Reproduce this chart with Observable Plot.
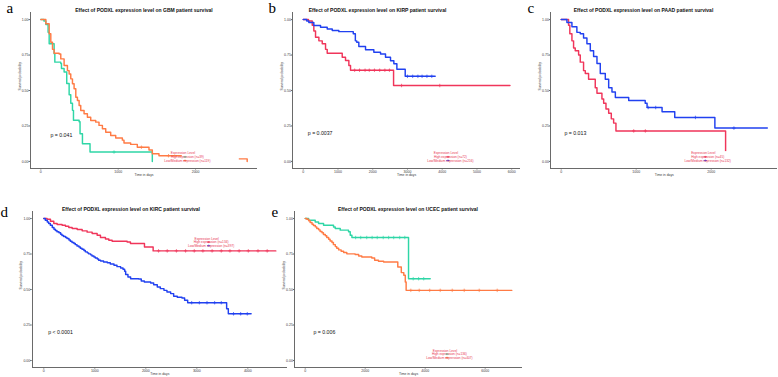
<!DOCTYPE html>
<html><head><meta charset="utf-8">
<script src="https://cdn.jsdelivr.net/npm/d3@7"></script>
<script src="https://cdn.jsdelivr.net/npm/@observablehq/plot@0.6"></script>
<style>
html,body{margin:0;padding:0;background:#fff;}
#fig{position:relative;width:778px;height:377px;overflow:hidden;background:#fff;font-family:"Liberation Sans",Arial,sans-serif;}
</style></head><body><div id="fig"></div>
<script>
// ---------- DATA ----------
const yTicks = [0, 0.25, 0.5, 0.75, 1];
const legendTitle = "Expression Level";

// a: GBM
const gbmHighTime = [0, 40, 65, 94, 108, 172, 181, 258, 267, 301, 335, 366, 387, 409, 422, 495, 507, 538, 636, 1441];
const gbmHighSurv = [1, 0.99, 0.965, 0.91, 0.83, 0.76, 0.70, 0.69, 0.655, 0.63, 0.55, 0.47, 0.41, 0.36, 0.29, 0.28, 0.195, 0.125, 0.066, 0];
const gbmLowTime = [0, 65, 108, 129, 151, 172, 237, 258, 301, 344, 366, 387, 409, 430, 452, 473, 495, 516, 559, 602, 645, 710, 752, 796, 839, 903, 968, 1054, 1075, 1161, 1247, 1398, 1441, 1527, 2400, 2667];
const gbmLowSurv = [1, 0.97, 0.90, 0.84, 0.79, 0.763, 0.758, 0.723, 0.676, 0.64, 0.617, 0.582, 0.547, 0.512, 0.453, 0.43, 0.394, 0.359, 0.336, 0.312, 0.289, 0.277, 0.254, 0.23, 0.206, 0.183, 0.165, 0.15, 0.13, 0.12, 0.10, 0.08, 0.054, 0.04, 0.018, 0];
const gbmHighCens = [946];
const gbmLowCens = [1300, 1650, 1900];
const gbmXTicks = [0, 1000, 2000];
const gbmLabels = ["High expression (n=39)", "Low/Medium expression (n=119)"];

// b: KIRP
const kirpHighTime = [0, 150, 259, 305, 354, 450, 547, 642, 690, 1122, 1217, 1313, 1361, 2600, 5950];
const kirpHighSurv = [1, 0.99, 0.96, 0.92, 0.875, 0.85, 0.83, 0.79, 0.763, 0.735, 0.711, 0.676, 0.643, 0.535, 0.535];
const kirpLowTime = [0, 100, 161, 305, 498, 690, 835, 1025, 1440, 1500, 1540, 1600, 1793, 2032, 2225, 2368, 2512, 2608, 2695, 2935, 3798];
const kirpLowSurv = [1, 0.99, 0.98, 0.958, 0.946, 0.934, 0.923, 0.915, 0.90, 0.85, 0.84, 0.81, 0.787, 0.77, 0.758, 0.734, 0.71, 0.688, 0.65, 0.60, 0.60];
const kirpHighCens = [1480, 1620, 1780, 1900, 2050, 2200, 2350, 2480, 2830, 3930];
const kirpLowCens = [3000, 3150, 3300, 3420, 3560, 3700];
const kirpXTicks = [0, 1000, 2000, 3000, 4000, 5000, 6000];
const kirpLabels = ["High expression (n=72)", "Low/Medium expression (n=216)"];

// c: PAAD
const paadHighTime = [0, 98, 115, 143, 165, 187, 232, 254, 298, 321, 365, 454, 477, 543, 566, 597, 633, 668, 699, 730, 2192];
const paadHighSurv = [1, 0.96, 0.90, 0.85, 0.80, 0.78, 0.75, 0.70, 0.64, 0.62, 0.58, 0.52, 0.48, 0.44, 0.41, 0.37, 0.34, 0.30, 0.27, 0.215, 0];
const paadLowTime = [0, 76, 143, 209, 254, 298, 343, 388, 432, 477, 521, 588, 633, 677, 722, 900, 1120, 1145, 1345, 1514, 2049, 2748];
const paadLowSurv = [1, 0.98, 0.95, 0.91, 0.90, 0.87, 0.83, 0.78, 0.74, 0.69, 0.62, 0.58, 0.52, 0.49, 0.45, 0.43, 0.41, 0.38, 0.35, 0.31, 0.235, 0.235];
const paadHighCens = [967, 1122];
const paadLowCens = [1160, 1260, 1790, 2303];
const paadXTicks = [0, 1000, 2000];
const paadLabels = ["High expression (n=45)", "Low/Medium expression (n=132)"];

// d: KIRC
const kircHighTime = [0, 65, 131, 196, 261, 359, 425, 490, 556, 654, 752, 850, 948, 1046, 1111, 1209, 1275, 1340, 1634, 1699, 1974, 2144, 4549];
const kircHighSurv = [1, 0.995, 0.981, 0.965, 0.958, 0.953, 0.946, 0.936, 0.929, 0.922, 0.913, 0.904, 0.894, 0.882, 0.866, 0.856, 0.847, 0.84, 0.835, 0.824, 0.80, 0.772, 0.772];
const kircLowTime = [0, 30, 68, 95, 128, 166, 199, 226, 258, 297, 330, 356, 389, 428, 455, 493, 520, 553, 591, 618, 651, 689, 716, 749, 787, 814, 853, 879, 918, 945, 983, 1010, 1049, 1075, 1114, 1172, 1245, 1304, 1376, 1435, 1506, 1553, 1585, 1605, 1650, 1702, 1860, 1911, 1971, 2095, 2154, 2225, 2285, 2356, 2415, 2487, 2546, 2617, 2709, 2761, 2821, 3585, 3618, 4065];
const kircLowSurv = [1, 0.988, 0.976, 0.965, 0.953, 0.936, 0.925, 0.915, 0.906, 0.899, 0.889, 0.880, 0.873, 0.866, 0.859, 0.849, 0.840, 0.831, 0.824, 0.816, 0.807, 0.800, 0.791, 0.784, 0.774, 0.765, 0.758, 0.751, 0.744, 0.736, 0.729, 0.722, 0.715, 0.706, 0.701, 0.694, 0.689, 0.680, 0.671, 0.661, 0.652, 0.642, 0.628, 0.605, 0.588, 0.576, 0.574, 0.560, 0.553, 0.546, 0.534, 0.518, 0.506, 0.494, 0.482, 0.471, 0.452, 0.445, 0.440, 0.424, 0.407, 0.365, 0.329, 0.329];
const kircHighCens = [2250, 2420, 2600, 2780, 2950, 3120, 3300, 3480, 3650, 3830, 4010, 4200, 4380];
const kircLowCens = [2900, 3050, 3200, 3350, 3480, 3720, 3860, 3990];
const kircXTicks = [0, 1000, 2000, 3000, 4000];
const kircLabels = ["High expression (n=134)", "Low/Medium expression (n=397)"];

// e: UCEC
const ucecHighTime = [0, 111, 333, 444, 611, 944, 1000, 1167, 1444, 1500, 1556, 3444, 4167];
const ucecHighSurv = [1, 0.988, 0.976, 0.965, 0.953, 0.94, 0.93, 0.918, 0.906, 0.882, 0.866, 0.576, 0.576];
const ucecLowTime = [0, 52, 115, 163, 226, 274, 337, 385, 448, 496, 559, 607, 670, 718, 781, 829, 892, 940, 1003, 1051, 1114, 1197, 1281, 1386, 1664, 1781, 1886, 2219, 2314, 2441, 2614, 3086, 3203, 3286, 3336, 3364, 6889];
const ucecLowSurv = [1, 0.995, 0.984, 0.972, 0.96, 0.951, 0.941, 0.929, 0.92, 0.908, 0.899, 0.887, 0.878, 0.866, 0.854, 0.842, 0.831, 0.816, 0.802, 0.791, 0.779, 0.769, 0.76, 0.751, 0.746, 0.736, 0.729, 0.722, 0.706, 0.699, 0.694, 0.659, 0.619, 0.60, 0.553, 0.494, 0.494];
const ucecHighCens = [1680, 1850, 2050, 2230, 2400, 2600, 2780, 2950, 3150, 3320, 3600, 3780, 3950];
const ucecLowCens = [3520, 3800, 4150, 4500, 4900, 5300, 5800, 6400];
const ucecXTicks = [0, 2000, 4000, 6000];
const ucecLabels = ["High expression (n=136)", "Low/Medium expression (n=407)"];

// ---------- STYLE ----------
const teal = "#2fd6a6", orange = "#ff7b45", red = "#f0355a", blue = "#2141f0";
const legendRed = "#e8354f", axisColor = "#6a6a6a", tickColor = "#3a3a3a";
const sans = "'Liberation Sans', Arial, sans-serif";
const serif = "'Liberation Serif', 'Times New Roman', serif";

// ---------- PANELS (layout) ----------
const panels = [
  {left:0, top:0, width:262, height:180, mL:30, mR:5, mT:12, mB:12,
   letter:"a", letterX:6, letterY:12, title:"Effect of PODXL expression level on GBM patient survival", titleX:143.5, titleY:10,
   p:"p = 0.041", pX:50, pY:135, legX:183, legY:153.3, legW:57,
   series:[{time:gbmHighTime, surv:gbmHighSurv, cens:gbmHighCens, color:teal},{time:gbmLowTime, surv:gbmLowSurv, cens:gbmLowCens, color:orange}],
   xticks:gbmXTicks, labels:gbmLabels},
  {left:258, top:0, width:264, height:180, mL:34.4, mR:2.2, mT:12, mB:12,
   letter:"b", letterX:268, letterY:12.5, title:"Effect of PODXL expression level on KIRP patient survival", titleX:377, titleY:9.5,
   p:"p = 0.0037", pX:307.3, pY:133.3, legX:446, legY:153.3, legW:58,
   series:[{time:kirpHighTime, surv:kirpHighSurv, cens:kirpHighCens, color:red},{time:kirpLowTime, surv:kirpLowSurv, cens:kirpLowCens, color:blue}],
   xticks:kirpXTicks, labels:kirpLabels},
  {left:518, top:0, width:260, height:180, mL:32.4, mR:0.9, mT:12, mB:12,
   letter:"c", letterX:527, letterY:12.5, title:"Effect of PODXL expression level on PAAD patient survival", titleX:643, titleY:9.5,
   p:"p = 0.013", pX:564, pY:133.3, legX:703.3, legY:153.3, legW:58,
   series:[{time:paadHighTime, surv:paadHighSurv, cens:paadHighCens, color:red},{time:paadLowTime, surv:paadLowSurv, cens:paadLowCens, color:blue}],
   xticks:paadXTicks, labels:paadLabels},
  {left:0, top:190, width:290, height:187, mL:31.7, mR:3.1, mT:20.9, mB:9.9,
   letter:"d", letterX:0, letterY:216.7, title:"Effect of PODXL expression level on KIRC patient survival", titleX:130.5, titleY:208.5,
   p:"p < 0.0001", pX:47.7, pY:331.7, legX:206.7, legY:238.5, legW:60,
   series:[{time:kircHighTime, surv:kircHighSurv, cens:kircHighCens, color:red},{time:kircLowTime, surv:kircLowSurv, cens:kircLowCens, color:blue}],
   xticks:kircXTicks, labels:kircLabels},
  {left:262, top:190, width:262, height:187, mL:32.4, mR:2.3, mT:20.9, mB:9.9,
   letter:"e", letterX:271, letterY:216.7, title:"Effect of PODXL expression level on UCEC patient survival", titleX:407.5, titleY:208.5,
   p:"p = 0.006", pX:313, pY:331.7, legX:445, legY:350.5, legW:60,
   series:[{time:ucecHighTime, surv:ucecHighSurv, cens:ucecHighCens, color:teal},{time:ucecLowTime, surv:ucecLowSurv, cens:ucecLowCens, color:orange}],
   xticks:ucecXTicks, labels:ucecLabels}
];

function rows(time, surv) { return time.map((t, i) => ({t, s: surv[i]})); }
function survAt(time, surv, t) { const i = d3.bisectRight(time, t) - 1; return surv[Math.max(0, i)]; }

const fig = document.getElementById("fig");

for (const cfg of panels) {
  const M = d3.max(cfg.series.flatMap(s => s.time));
  const xdom = [-0.05 * M, 1.05 * M];
  const rel = (x, y) => ({frameAnchor: "top-left", dx: x - cfg.left - cfg.mL, dy: y - cfg.top - cfg.mT});
  const marks = [
    Plot.ruleX([xdom[0]], {stroke: axisColor, strokeWidth: 1, shapeRendering: "crispEdges"}),
    Plot.ruleY([-0.05], {stroke: axisColor, strokeWidth: 1, shapeRendering: "crispEdges"}),
    Plot.axisX({ticks: cfg.xticks, tickFormat: d => String(d), tickSize: 1.5, tickPadding: 0.5, fontSize: 3.5, label: null, stroke: axisColor, fill: tickColor}),
    Plot.axisY({ticks: yTicks, tickFormat: d3.format(".2f"), tickSize: 1.5, tickPadding: 0.5, fontSize: 3.5, label: null, stroke: axisColor, fill: tickColor}),
  ];
  for (const s of cfg.series) {
    marks.push(Plot.line(rows(s.time, s.surv), {x: "t", y: "s", curve: "step-after", stroke: s.color, strokeWidth: 1.45}));
    marks.push(Plot.dot(s.cens.map(t => ({t, s: survAt(s.time, s.surv, t)})), {x: "t", y: "s", symbol: "plus", r: 1.2, stroke: s.color, strokeWidth: 0.7}));
  }
  marks.push(
    Plot.text([cfg.title], {...rel(cfg.titleX, cfg.titleY), text: d => d, textAnchor: "middle", lineAnchor: "middle", fontSize: 5, fontWeight: "bold", fill: "#111"}),
    Plot.text([cfg.letter], {...rel(cfg.letterX, cfg.letterY), text: d => d, textAnchor: "start", lineAnchor: "bottom", fontSize: 15, fontFamily: serif, fill: "#000"}),
    Plot.text([cfg.p], {...rel(cfg.pX, cfg.pY), text: d => d, textAnchor: "start", lineAnchor: "middle", fontSize: 5.2, fill: "#111"}),
    Plot.text(["Time in days"], {frameAnchor: "bottom", dy: 6.5, text: d => d, lineAnchor: "middle", fontSize: 3.4, fill: tickColor}),
    Plot.text(["Survival probability"], {frameAnchor: "left", dx: -11, rotate: -90, text: d => d, lineAnchor: "middle", fontSize: 3.4, fill: tickColor})
  );
  const svg = Plot.plot({
    width: cfg.width, height: cfg.height,
    marginLeft: cfg.mL, marginRight: cfg.mR, marginTop: cfg.mT, marginBottom: cfg.mB,
    x: {domain: xdom}, y: {domain: [-0.05, 1.05]},
    style: {background: "transparent", overflow: "visible", fontFamily: sans},
    marks
  });
  svg.style.position = "absolute";
  svg.style.left = cfg.left + "px";
  svg.style.top = cfg.top + "px";
  svg.style.background = "transparent";
  svg.style.overflow = "visible";
  svg.style.maxWidth = "none";
  // legend
  const g = d3.select(svg).append("g").attr("font-family", sans).attr("font-size", 3.2).attr("fill", legendRed);
  const x0 = cfg.legX - cfg.left, y0 = cfg.legY - cfg.top, lh = 3.6;
  g.append("rect").attr("x", x0 - 1.2).attr("y", y0 - 2.2).attr("width", cfg.legW).attr("height", lh * 2 + 4.4).attr("fill", "white");
  g.append("text").attr("x", x0).attr("y", y0).attr("dy", "0.35em").text(legendTitle);
  cfg.labels.forEach((lab, i) => {
    const y = y0 + lh * (i + 1), c = cfg.series[i].color;
    g.append("line").attr("x1", x0 + 0.4).attr("x2", x0 + 3.6).attr("y1", y).attr("y2", y).attr("stroke", c).attr("stroke-width", 0.9);
    g.append("line").attr("x1", x0 + 2).attr("x2", x0 + 2).attr("y1", y - 1).attr("y2", y + 1).attr("stroke", c).attr("stroke-width", 0.7);
    g.append("text").attr("x", x0 + 4.4).attr("y", y).attr("dy", "0.35em").text(lab);
  });
  fig.appendChild(svg);
}
</script></body></html>
